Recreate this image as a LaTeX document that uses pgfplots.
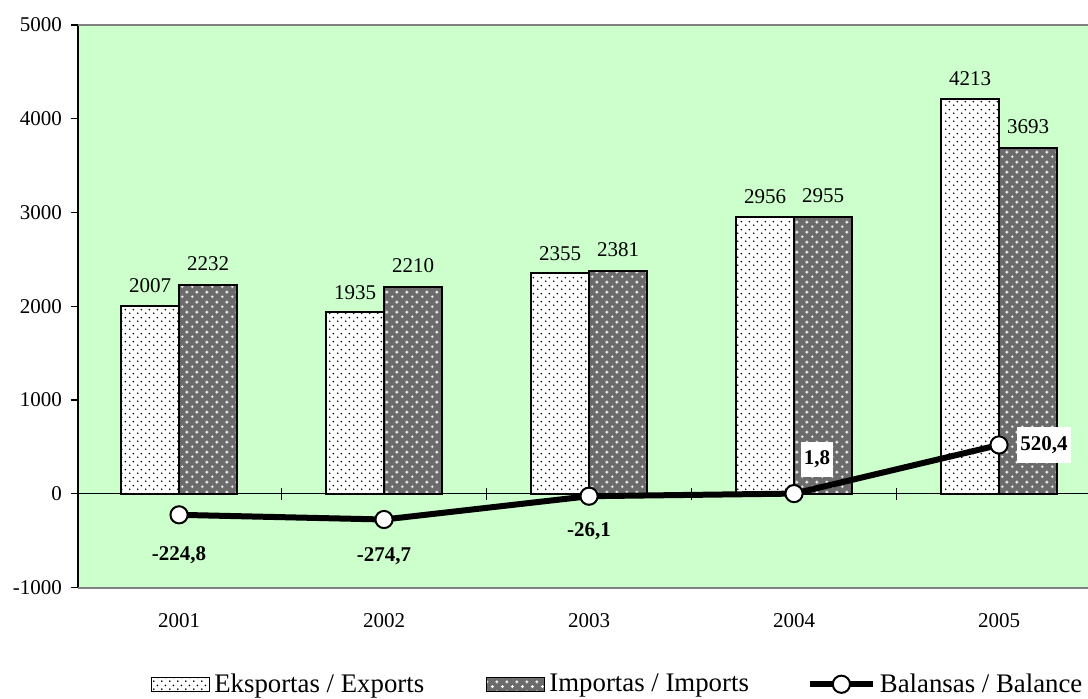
\documentclass[border=0pt]{standalone}
\usepackage{fontspec}
\setmainfont{Liberation Serif}
\usepackage{pgfplots}
\pgfplotsset{compat=1.18}
\usepackage{pgfplotstable}
\usetikzlibrary{patterns}
\definecolor{bggreen}{HTML}{CCFFCC}

\pgfdeclarepatternformonly{expdots}{\pgfqpoint{0pt}{0pt}}{\pgfqpoint{4pt}{4pt}}{\pgfqpoint{4pt}{4pt}}{%
  \pgfpathcircle{\pgfqpoint{1pt}{1pt}}{0.5pt}%
  \pgfpathcircle{\pgfqpoint{3pt}{3pt}}{0.5pt}%
  \pgfusepath{fill}}
\pgfdeclarepatternformonly{impcross}{\pgfqpoint{0pt}{0pt}}{\pgfqpoint{5pt}{5pt}}{\pgfqpoint{5pt}{5pt}}{%
  \pgfpathrectangle{\pgfqpoint{0.45pt}{1pt}}{\pgfqpoint{1.6pt}{0.5pt}}%
  \pgfpathrectangle{\pgfqpoint{1pt}{0.45pt}}{\pgfqpoint{0.5pt}{1.6pt}}%
  \pgfpathrectangle{\pgfqpoint{2.95pt}{3.5pt}}{\pgfqpoint{1.6pt}{0.5pt}}%
  \pgfpathrectangle{\pgfqpoint{3.5pt}{2.95pt}}{\pgfqpoint{0.5pt}{1.6pt}}%
  \pgfusepath{fill}}

\pgfplotsset{
  barleg/.style={legend image code/.code={\draw[##1, line width=0.6pt] (0pt,-3.5pt) rectangle (29pt,3.5pt);}},
  lineleg/.style={legend image code/.code={\draw[mark repeat=2, mark phase=2, ##1, mark size=3.3pt] plot coordinates {(0pt,0pt) (15.75pt,0pt) (31.5pt,0pt)};}},
}

\pgfplotstableread{
x exp imp
0 2007 2232
1 1935 2210
2 2355 2381
3 2956 2955
4 4213 3693
}\trade

\pgfplotstableread{
x bal lab dx dy fo
0 -224.8 -224,8 0 -20 0
1 -274.7 -274,7 0 -18.5 0
2 -26.1 -26,1 0 -17.5 0
3 1.8 1,8 11.5 17 1
4 520.4 520,4 22.5 0 1
}\bal

\begin{document}
\begin{tikzpicture}
\useasboundingbox (-39pt,-55.25pt) rectangle (505pt,293.75pt);
\begin{axis}[
  at={(0pt,0pt)}, anchor=south west,
  scale only axis, width=505pt, height=281.25pt,
  xmin=-0.493, xmax=4.434, ymin=-1000, ymax=5000,
  clip=false,
  ybar=0pt, bar width=29pt,
  axis background/.style={fill=bggreen},
  axis line style={draw=none},
  xtick={0,1,2,3,4}, xticklabels={2001,2002,2003,2004,2005},
  x tick style={draw=none},
  ytick={-1000,0,1000,2000,3000,4000,5000},
  ytick pos=left, tick align=outside, major tick length=3.5pt,
  y tick style={black, line width=0.7pt},
  scaled y ticks=false,
  ticklabel style={font=\fontsize{10.5}{12}\selectfont},
  /pgf/number format/assume math mode=true,
  /pgf/number format/1000 sep={},
  xticklabel style={yshift=-6pt},
  yticklabel style={xshift=-1pt},
  legend columns=3,
  legend style={draw=none, fill=none, at={(0.072,-0.172)}, anchor=west,
    font=\fontsize{13.4}{15}\selectfont, inner xsep=0pt,
    /tikz/column 2/.style={column sep=29pt},
    /tikz/column 4/.style={column sep=27pt}},
]
\draw[black, line width=0.5pt] (axis cs:-0.493,0) -- (axis cs:4.434,0);
\draw[black, line width=0.5pt] (axis cs:0.5,0) ++(0pt,-3pt) -- ++(0pt,6pt);
\draw[black, line width=0.5pt] (axis cs:1.5,0) ++(0pt,-3pt) -- ++(0pt,6pt);
\draw[black, line width=0.5pt] (axis cs:2.5,0) ++(0pt,-3pt) -- ++(0pt,6pt);
\draw[black, line width=0.5pt] (axis cs:3.5,0) ++(0pt,-3pt) -- ++(0pt,6pt);
\addplot[fill=white, draw=black, line width=1pt,
  postaction={pattern=expdots, pattern color=black},
  bar shift=-14.5pt,
  nodes near coords,
  nodes near coords style={font=\fontsize{10.5}{12}\selectfont, text=black, yshift=2.5pt},
  barleg]
  table[x=x, y=exp] {\trade};
\addlegendentry{Eksportas / Exports}
\addplot[fill=black!58, draw=black, line width=1pt,
  postaction={pattern=impcross, pattern color=white},
  bar shift=14.5pt,
  nodes near coords,
  nodes near coords style={font=\fontsize{10.5}{12}\selectfont, text=black, yshift=3pt},
  barleg]
  table[x=x, y=imp] {\trade};
\addlegendentry{Importas / Imports}
\addplot[sharp plot, black, line width=3pt,
  mark=*, mark options={fill=white, draw=black, line width=1pt, mark size=4.3pt},
  point meta=explicit symbolic,
  visualization depends on={\thisrow{dx} \as \dx},
  visualization depends on={\thisrow{dy} \as \dy},
  visualization depends on={\thisrow{fo} \as \fo},
  nodes near coords,
  nodes near coords style={anchor=center, xshift=\dx pt, yshift=\dy pt,
    fill=white, draw=none, fill opacity=\fo, text opacity=1, text=black,
    inner xsep=1.5pt, inner ysep=4.5pt,
    font=\fontsize{10.5}{12}\selectfont\bfseries},
  lineleg]
  table[x=x, y=bal, meta=lab] {\bal};
\addlegendentry{Balansas / Balance}
\draw[black, line width=1pt] (rel axis cs:0,0) -- (rel axis cs:0,1);
\draw[black!50, line width=1pt] (rel axis cs:0,1) -- (rel axis cs:1,1);
\draw[black!50, line width=1pt] (rel axis cs:0,0) -- (rel axis cs:1,0);
\end{axis}
\end{tikzpicture}
\end{document}
